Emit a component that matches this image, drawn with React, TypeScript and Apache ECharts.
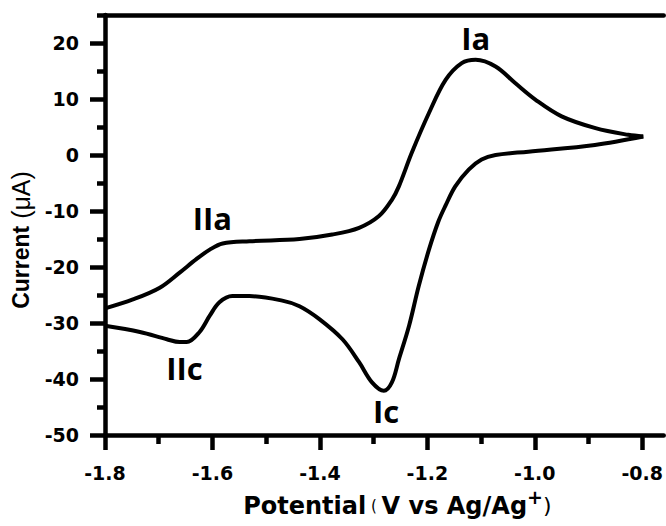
import React, { useEffect, useRef } from 'react';
import * as echarts from 'echarts';

// Cathodic sweep: from the -0.8 V vertex towards -1.8 V (lower branch)
const cathodicPotential = [-0.798, -0.888, -1.012, -1.073, -1.099, -1.123, -1.148, -1.166, -1.180, -1.197, -1.216, -1.234, -1.253, -1.266, -1.281, -1.303, -1.327, -1.358, -1.401, -1.438, -1.470, -1.531, -1.563, -1.587, -1.605, -1.624, -1.648, -1.661, -1.685, -1.735, -1.800];
const cathodicCurrent = [3.3, 1.8, 0.6, 0.0, -0.8, -2.6, -5.6, -9.0, -12.0, -16.9, -23.4, -30.5, -36.5, -40.6, -42.1, -40.6, -37.0, -32.9, -29.3, -27.0, -26.0, -25.2, -25.2, -26.3, -28.7, -31.6, -33.4, -33.4, -32.9, -31.6, -30.5];

// Anodic sweep: from -1.8 V back to -0.8 V (upper branch)
const anodicPotential = [-1.800, -1.748, -1.698, -1.661, -1.630, -1.605, -1.581, -1.531, -1.438, -1.377, -1.327, -1.290, -1.266, -1.253, -1.229, -1.197, -1.166, -1.136, -1.110, -1.073, -1.036, -0.999, -0.950, -0.887, -0.826, -0.798];
const anodicCurrent = [-27.4, -25.8, -23.7, -21.0, -18.6, -16.9, -15.8, -15.4, -15.0, -14.2, -13.0, -10.9, -8.0, -5.6, 0.4, 7.5, 13.4, 16.4, 17.0, 15.8, 12.8, 9.9, 6.9, 4.8, 3.6, 3.3];

const xMajorTicks = [-1.8, -1.6, -1.4, -1.2, -1.0, -0.8];
const xMinorTicks = [-1.7, -1.5, -1.3, -1.1, -0.9];
const yMajorTicks = [-50, -40, -30, -20, -10, 0, 10, 20];
const yMinorTicks = [-45, -35, -25, -15, -5, 5, 15, 25];

const peakLabels = ['Ia', 'IIa', 'IIc', 'Ic'];
const peakLabelPotential = [-1.11, -1.6, -1.652, -1.277];
const peakLabelCurrent = [20.9, -11.3, -38.1, -45.7];

const X_MIN = -1.8;
const X_MAX = -0.76;
const Y_MIN = -50;
const Y_MAX = 25;

const BLACK = '#000';
const AXIS_FONT = '"DejaVu Sans", sans-serif';
const AXIS_W = 4.5;

function buildOption(): any {
  const axisLine = { show: true, onZero: false, lineStyle: { color: BLACK, width: AXIS_W } };
  const tickStyle = { color: BLACK, width: AXIS_W };
  return {
    animation: false,
    backgroundColor: '#fff',
    grid: { left: 105, right: 0, top: 15, bottom: 91, containLabel: false },
    xAxis: [
      {
        type: 'value',
        position: 'bottom',
        min: X_MIN,
        max: X_MAX,
        splitLine: { show: false },
        axisLine,
        axisTick: { show: true, customValues: xMajorTicks, length: 15, lineStyle: tickStyle },
        axisLabel: {
          show: true,
          customValues: xMajorTicks,
          formatter: (v: number) => v.toFixed(1),
          fontFamily: AXIS_FONT,
          fontWeight: 'bold',
          fontSize: 19,
          color: BLACK,
          margin: 28,
        },
        name: '{a|Potential}{b| ( }{c|V vs Ag/Ag}{d|+}{e|)}',
        nameLocation: 'middle',
        nameGap: 52,
        nameTextStyle: {
          rich: {
            a: { fontFamily: AXIS_FONT, fontWeight: 'bold', fontSize: 24, color: BLACK, padding: [0, 0, 0, 26] },
            b: { fontFamily: AXIS_FONT, fontWeight: 'normal', fontSize: 15, color: BLACK },
            c: { fontFamily: AXIS_FONT, fontWeight: 'bold', fontSize: 24, color: BLACK },
            d: { fontFamily: AXIS_FONT, fontWeight: 'bold', fontSize: 19, color: BLACK, padding: [0, 0, 18, 0] },
            e: { fontFamily: AXIS_FONT, fontWeight: 'normal', fontSize: 22, color: BLACK },
          },
        },
      },
      {
        type: 'value',
        position: 'bottom',
        min: X_MIN,
        max: X_MAX,
        splitLine: { show: false },
        axisLine: { show: false, onZero: false },
        axisTick: { show: true, customValues: xMinorTicks, length: 9, lineStyle: tickStyle },
        axisLabel: { show: false },
      },
      {
        type: 'value',
        position: 'top',
        min: X_MIN,
        max: X_MAX,
        splitLine: { show: false },
        axisLine,
        axisTick: { show: false },
        axisLabel: { show: false },
      },
    ],
    yAxis: [
      {
        type: 'value',
        position: 'left',
        min: Y_MIN,
        max: Y_MAX,
        splitLine: { show: false },
        axisLine,
        axisTick: { show: true, customValues: yMajorTicks, length: 15, lineStyle: tickStyle },
        axisLabel: {
          show: true,
          customValues: yMajorTicks,
          fontFamily: AXIS_FONT,
          fontWeight: 'bold',
          fontSize: 19,
          color: BLACK,
          margin: 26,
        },
        name: '{a|Current}{b| (μA)}',
        nameLocation: 'middle',
        nameRotate: 90,
        nameGap: 68,
        nameTextStyle: {
          rich: {
            a: { fontFamily: '"Liberation Sans", Arial, sans-serif', fontWeight: 'bold', fontSize: 23, color: BLACK },
            b: { fontFamily: '"Liberation Sans", Arial, sans-serif', fontWeight: 'normal', fontSize: 25, color: BLACK, padding: [0, 30, 0, 0] },
          },
        },
      },
      {
        type: 'value',
        position: 'left',
        min: Y_MIN,
        max: Y_MAX,
        splitLine: { show: false },
        axisLine: { show: false, onZero: false },
        axisTick: { show: true, customValues: yMinorTicks, length: 8, lineStyle: tickStyle },
        axisLabel: { show: false },
      },
    ],
    series: [
      {
        type: 'line',
        name: 'cathodic',
        xAxisIndex: 0,
        yAxisIndex: 0,
        data: cathodicPotential.map((v, i) => [v, cathodicCurrent[i]]),
        showSymbol: false,
        smooth: 0.35,
        lineStyle: { color: BLACK, width: 4 },
        silent: true,
      },
      {
        type: 'line',
        name: 'anodic',
        xAxisIndex: 0,
        yAxisIndex: 0,
        data: anodicPotential.map((v, i) => [v, anodicCurrent[i]]),
        showSymbol: false,
        smooth: 0.35,
        lineStyle: { color: BLACK, width: 4 },
        silent: true,
      },
      {
        type: 'scatter',
        name: 'peaks',
        xAxisIndex: 0,
        yAxisIndex: 0,
        symbolSize: 0,
        itemStyle: { color: BLACK },
        silent: true,
        data: peakLabels.map((n, i) => ({ name: n, value: [peakLabelPotential[i], peakLabelCurrent[i]] })),
        label: {
          show: true,
          position: 'inside',
          formatter: '{b}',
          fontFamily: '"Open Sans", sans-serif',
          fontWeight: 'bold',
          fontSize: 31,
          color: BLACK,
          opacity: 1,
          textBorderWidth: 0,
        },
      },
    ],
  };
}

export default function App() {
  const ref = useRef<HTMLDivElement>(null);
  useEffect(() => {
    if (!ref.current) return;
    const chart = echarts.init(ref.current, null, { renderer: 'svg' });
    chart.setOption(buildOption());
    return () => chart.dispose();
  }, []);
  return (
    <div
      ref={ref}
      style={{ position: 'absolute', left: 0, top: 0, width: 666, height: 526, background: '#fff' }}
    />
  );
}
